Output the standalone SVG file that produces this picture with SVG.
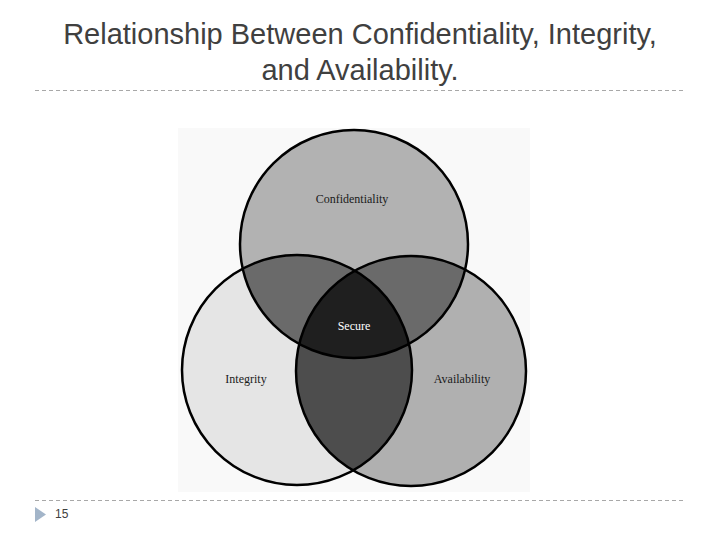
<svg xmlns="http://www.w3.org/2000/svg" width="720" height="540" viewBox="0 0 720 540">
  <style>
    .title { font-family: "Liberation Sans", Arial, sans-serif; font-size: 29px; fill: #404040; text-anchor: middle; }
    .rule { stroke: #a8a8a8; stroke-width: 1; stroke-dasharray: 4 3; fill: none; }
    .label { font-family: "Liberation Serif", "Times New Roman", serif; font-size: 12px; fill: #1a1a1a; text-anchor: middle; }
    .outline { fill: none; stroke: #000; stroke-width: 2.5; }
  </style>
  <defs>
    <clipPath id="clipC"><circle cx="354" cy="244" r="114"/></clipPath>
    <clipPath id="clipI"><circle cx="297" cy="370" r="115"/></clipPath>
    <clipPath id="clipA"><circle cx="411" cy="371" r="115"/></clipPath>
  </defs>
  <rect width="720" height="540" fill="#ffffff"/>

  <text class="title" x="360" y="44">Relationship Between Confidentiality, Integrity,</text>
  <text class="title" x="360" y="80">and Availability.</text>
  <line class="rule" x1="35" y1="90.5" x2="685" y2="90.5"/>

  <rect x="178" y="128" width="352" height="364" fill="#f9f9f9"/>

  <g id="confidentiality">
    <circle cx="354" cy="244" r="114" fill="#b2b2b2"/>
  </g>
  <g id="integrity">
    <circle cx="297" cy="370" r="115" fill="#e5e5e5"/>
  </g>
  <g id="availability">
    <circle cx="411" cy="371" r="115" fill="#b0b0b0"/>
  </g>
  <g id="overlaps">
    <circle cx="297" cy="370" r="115" fill="#6a6a6a" clip-path="url(#clipC)"/>
    <circle cx="411" cy="371" r="115" fill="#6a6a6a" clip-path="url(#clipC)"/>
    <circle cx="411" cy="371" r="115" fill="#4d4d4d" clip-path="url(#clipI)"/>
    <g clip-path="url(#clipC)">
      <circle cx="411" cy="371" r="115" fill="#1f1f1f" clip-path="url(#clipI)"/>
    </g>
  </g>
  <g id="outlines">
    <circle class="outline" cx="354" cy="244" r="114"/>
    <circle class="outline" cx="297" cy="370" r="115"/>
    <circle class="outline" cx="411" cy="371" r="115"/>
  </g>
  <g id="labels">
    <text class="label" x="352" y="203">Confidentiality</text>
    <text class="label" x="354" y="330" fill="#ffffff" style="fill:#ffffff">Secure</text>
    <text class="label" x="246" y="383">Integrity</text>
    <text class="label" x="462" y="383">Availability</text>
  </g>

  <line class="rule" x1="35" y1="500.5" x2="685" y2="500.5"/>
  <polygon points="35,507 46,514.5 35,522" fill="#a3b5c9"/>
  <text x="55" y="518" font-family="'Liberation Sans', Arial, sans-serif" font-size="12" fill="#404040">15</text>
</svg>
